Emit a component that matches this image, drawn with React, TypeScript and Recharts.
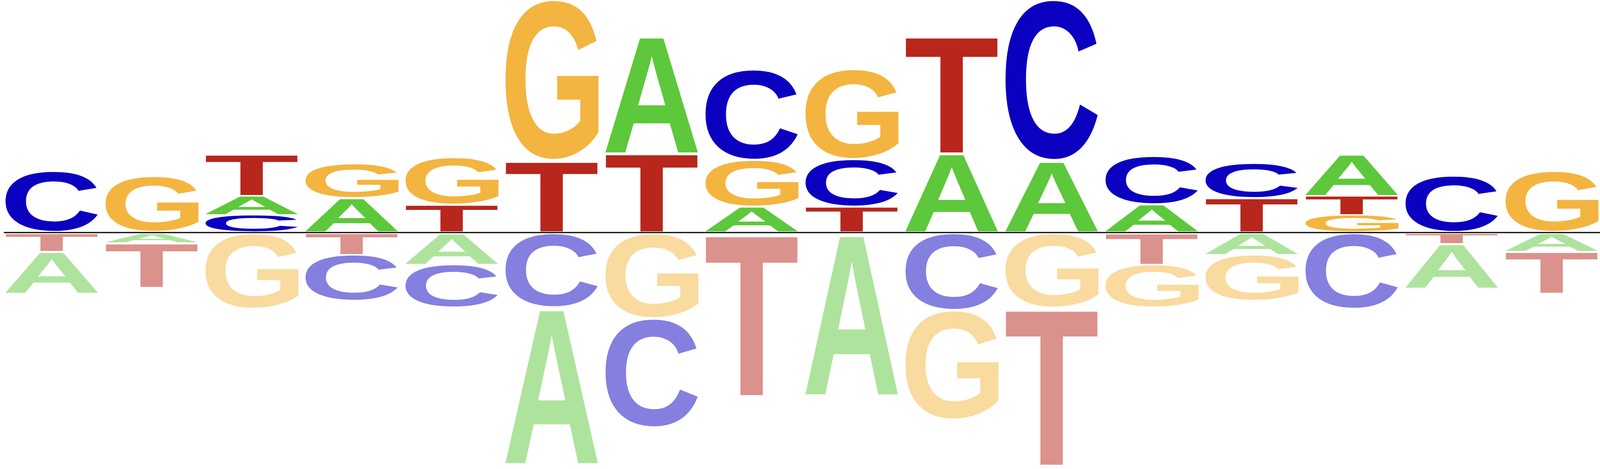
import { BarChart, Bar, XAxis, YAxis, ReferenceLine } from "recharts";

// sequence logo: letter heights per position, positive = above baseline, negative = below
const positions = ["1", "2", "3", "4", "5", "6", "7", "8", "9", "10", "11", "12", "13", "14", "15", "16"];
const heightA = [-1.07, -0.25, 0.49, 0.87, -0.8, -4.0, 3.01, 0.65, -4.14, 2.02, 1.82, 0.71, -0.55, 1.06, -1.14, -0.47];
const heightC = [1.56, 0, 0.44, -1.18, -1.1, -1.9, -2.8, 2.32, 1.21, -1.97, 4.14, 1.23, 0.89, -1.94, 1.44, 0];
const heightG = [0, 1.43, -1.94, 0.88, 1.21, 4.14, -2.18, 1.19, 2.31, -2.81, -1.91, -1.1, -1.18, 0.44, 0, 1.56];
const heightT = [-0.47, -1.14, 1.06, -0.55, 0.7, 1.82, 2.02, -4.16, 0.65, 3.01, -4.03, -0.8, 0.87, 0.49, -0.27, -1.07];

const LETTERS = ["A", "C", "G", "T"];
const HEIGHTS = [heightA, heightC, heightG, heightT];
const COLORS: Record<string, string> = {
  A: "#5dc83b",
  C: "#0c00c0",
  G: "#f3b540",
  T: "#b8261c",
};
const SLOTS = [0, 1, 2, 3];
const FONT = "Liberation Sans";

// the browser may give a narrower viewport than asked for, so fill what is there
const W = Math.min(4800, (typeof window !== "undefined" && window.innerWidth) || 4800);
const H = 1200;
const KX = W / 4800;
const GAP = 3;

const rows = positions.map((pos, i) => {
  const row: Record<string, any> = { pos };
  const entries = LETTERS.map((l, j) => ({ l, v: HEIGHTS[j][i] }));
  const ups = entries.filter((e) => e.v > 0).sort((a, b) => a.v - b.v);
  const downs = entries.filter((e) => e.v < 0).sort((a, b) => b.v - a.v);
  SLOTS.forEach((s) => {
    row[`p${s}`] = ups[s] ? ups[s].v : 0;
    row[`p${s}L`] = ups[s] ? ups[s].l : null;
    row[`n${s}`] = downs[s] ? downs[s].v : 0;
    row[`n${s}L`] = downs[s] ? downs[s].l : null;
  });
  return row;
});

// ink bounds of each glyph, measured once with a canvas
const boxes: Record<string, { left: number; right: number; asc: number; desc: number }> = {};
function glyphBox(letter: string) {
  if (!boxes[letter]) {
    const ctx = document.createElement("canvas").getContext("2d")!;
    ctx.font = `bold 1000px "${FONT}"`;
    const m = ctx.measureText(letter);
    boxes[letter] = {
      left: m.actualBoundingBoxLeft,
      right: m.actualBoundingBoxRight,
      asc: m.actualBoundingBoxAscent,
      desc: m.actualBoundingBoxDescent,
    };
  }
  return boxes[letter];
}

function Glyph(props: any) {
  const { x, y, width, height, letter, below } = props;
  if (!letter) return <g />;
  const top = Math.min(y, y + height);
  const h = Math.abs(height);
  if (h < 1) return <g />;
  const gx = x + 12.5 * KX;
  const gw = width - 16 * KX;
  const gy = below ? top + GAP : top;
  const gh = h - GAP;
  const m = glyphBox(letter);
  const sx = gw / (m.left + m.right);
  const sy = gh / (m.asc + m.desc);
  return (
    <text
      transform={`translate(${gx},${gy}) scale(${sx},${sy})`}
      x={m.left}
      y={m.asc}
      fontSize={1000}
      fontFamily={FONT}
      fontWeight="bold"
      fill={COLORS[letter]}
      fillOpacity={below ? 0.5 : 1}
    >
      {letter}
    </text>
  );
}

const makeShape = (key: string, below: boolean) => (props: any) =>
  <Glyph {...props} letter={props.payload[`${key}L`]} below={below} />;

export default function App() {
  return (
    <div style={{ width: W, height: H, overflow: "hidden" }}>
      <style>{"html,body{margin:0;padding:0;overflow:hidden}"}</style>
      <BarChart
        width={W}
        height={H}
        data={rows}
        margin={{ top: 0, right: 0, bottom: 0, left: 0 }}
        barCategoryGap={0}
        barGap={0}
        stackOffset="sign"
      >
        <XAxis dataKey="pos" hide />
        <YAxis type="number" domain={[-6.05, 5.95]} hide allowDataOverflow />
        {SLOTS.map((s) => (
          <Bar
            key={`p${s}`}
            dataKey={`p${s}`}
            stackId="logo"
            isAnimationActive={false}
            shape={makeShape(`p${s}`, false)}
          />
        ))}
        {SLOTS.map((s) => (
          <Bar
            key={`n${s}`}
            dataKey={`n${s}`}
            stackId="logo"
            isAnimationActive={false}
            shape={makeShape(`n${s}`, true)}
          />
        ))}
        <ReferenceLine
          y={0}
          stroke="#000"
          strokeWidth={3}
          shape={(p: any) => (
            <line x1={p.x1 + 11.5 * KX} y1={p.y1} x2={p.x2} y2={p.y2} stroke="#000" strokeWidth={3} />
          )}
        />
      </BarChart>
    </div>
  );
}
